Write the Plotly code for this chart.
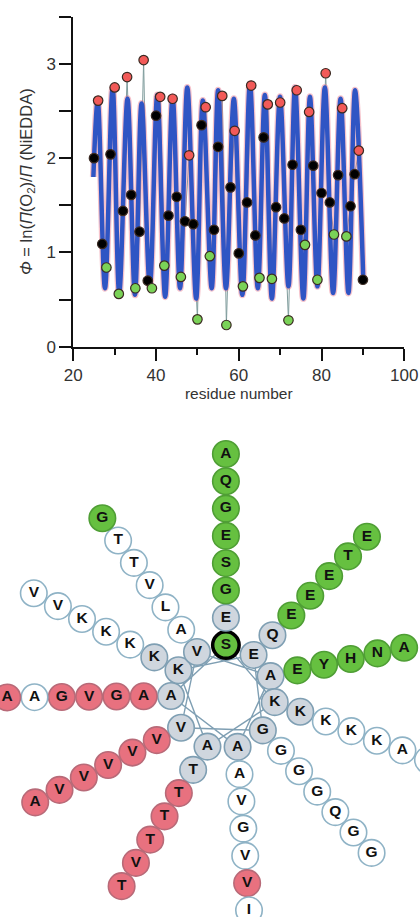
import math
import plotly.graph_objects as go

# ---------------- Top panel: data ----------------
residues = list(range(25, 91))
phi = [2.00, 2.61, 1.09, 0.84, 2.04, 2.75, 0.56, 1.44, 2.86, 1.61,
       0.62, 1.22, 3.04, 0.70, 0.62, 2.45, 2.65, 0.86, 1.39, 2.63,
       1.59, 0.74, 1.33, 2.03, 1.30, 0.29, 2.35, 2.54, 0.96, 1.24,
       2.12, 2.66, 0.23, 1.69, 2.29, 0.99, 0.64, 1.53, 2.77, 1.18,
       0.73, 2.22, 2.57, 0.72, 1.48, 2.59, 1.36, 0.28, 1.93, 2.72,
       1.24, 1.08, 2.49, 1.92, 0.71, 1.63, 2.90, 1.53, 1.19, 1.82,
       2.53, 1.17, 1.49, 1.83, 2.08, 0.71]
# k = black, r = red, g = green
group = ["k", "r", "k", "g", "k", "r", "g", "k", "r", "k",
         "g", "k", "r", "k", "g", "k", "r", "g", "k", "r",
         "k", "g", "k", "r", "k", "g", "k", "r", "g", "k",
         "k", "r", "g", "k", "r", "k", "g", "k", "r", "k",
         "g", "k", "r", "g", "k", "r", "k", "g", "k", "r",
         "k", "g", "r", "k", "g", "k", "r", "k", "g", "k",
         "r", "g", "k", "k", "r", "k"]

# periodic fit curve: extrema
fit_x = [24.85, 25.9, 27.66, 29.5, 31.1, 33.1, 34.9, 36.5, 38.5, 40.3, 42.2, 44.0,
         45.8, 47.55, 49.7, 51.3, 53.45, 55.0, 56.9, 58.8, 60.85, 62.7, 64.6, 66.3,
         68.0, 69.96, 72.0, 73.6, 75.6, 77.2, 79.0, 80.8, 82.8, 84.6, 86.5, 88.1, 90.1]
fit_y = [1.80, 2.61, 0.62, 2.74, 0.57, 2.63, 0.55, 2.58, 0.64, 2.67, 0.53, 2.65,
         0.62, 2.75, 0.51, 2.61, 0.62, 2.72, 0.62, 2.63, 0.55, 2.79, 0.62, 2.67,
         0.51, 2.65, 0.64, 2.75, 0.51, 2.65, 0.64, 2.75, 0.57, 2.63, 0.57, 2.72, 0.69]

x_ticks = [20, 40, 60, 80, 100]
y_ticks = [0, 0.5, 1, 1.5, 2, 2.5, 3, 3.5]
y_tick_text = ["0", "", "1", "", "2", "", "3", ""]

# ---------------- Bottom panel: helical wheel data ----------------
spoke_seq = ["SEGSEGQA", "EQEEETE", "AEYHNA", "KKKKKA ", "GGGGQGG", "AAVGVVI",
             "ATTTTVT", "VVVVVVA", "AAGVGAA", "KKKKKVV", "VALVTTG"]
# c = core (grey), w = white, g = green, r = red
spoke_col = ["gcgggggg", "ccggggg", "cggggg", "ccwwwww", "cwwwwww", "cwwwwrw",
             "ccrrrrr", "crrrrrr", "crrrrwr", "ccwwwww", "cwwwwwg"]
highlight = (0, 0)  # the boxed Ser

# wheel geometry (layout)
inner_angle = [86.8, 54, 23.7, -5.7, -40, -73.7, -107.4, -143.8, 178.9, 149, 120]
spoke_dir = [90, 46.2, 12, -20.7, -48.4, -86, -121.6, -152.9, 180.5, 152, 125.3]
R_INNER = 52
STEP = 27.3

FILL = {"c": "#cfd6de", "w": "#ffffff", "g": "#66c040", "r": "#e8717f"}
EDGE = {"c": "#7f9fb3", "w": "#8fb3c6", "g": "#4f9e35", "r": "#b86a78"}

FONT = "Liberation Sans, Arial, sans-serif"

fig = go.Figure()

# ---- top panel traces ----
fig.add_trace(go.Scatter(x=residues, y=phi, mode="lines",
                         line=dict(color="#7f9c9c", width=1),
                         xaxis="x", yaxis="y", hoverinfo="skip"))
fig.add_trace(go.Scatter(x=fit_x, y=fit_y, mode="lines",
                         line=dict(color="rgba(232,120,140,0.45)", width=7, shape="spline"),
                         xaxis="x", yaxis="y", hoverinfo="skip"))
fig.add_trace(go.Scatter(x=fit_x, y=fit_y, mode="lines",
                         line=dict(color="#2f55c4", width=4.5, shape="spline"),
                         xaxis="x", yaxis="y"))
PT = {"k": "#000000", "r": "#f25a58", "g": "#7ad257"}
for gkey in ["k", "r", "g"]:
    xs = [r for r, g in zip(residues, group) if g == gkey]
    ys = [p for p, g in zip(phi, group) if g == gkey]
    fig.add_trace(go.Scatter(x=xs, y=ys, mode="markers",
                             marker=dict(size=9.5, color=PT[gkey],
                                         line=dict(color="#3a2a22", width=1.2)),
                             xaxis="x", yaxis="y"))

# ---- wheel traces ----
inner_xy = []
for k in range(len(spoke_seq)):
    th = math.radians(inner_angle[k])
    inner_xy.append((R_INNER * math.cos(th), R_INNER * math.sin(th)))

order = []
k = 0
for _ in range(len(inner_xy) + 1):
    order.append(k)
    k = (k + 3) % len(inner_xy)
fig.add_trace(go.Scatter(x=[inner_xy[i][0] for i in order],
                         y=[inner_xy[i][1] for i in order],
                         mode="lines", line=dict(color="#7f9fb3", width=1.4),
                         xaxis="x2", yaxis="y2", hoverinfo="skip"))

wx, wy, wt, wf, we, ww = [], [], [], [], [], []
for k, (seq, cols) in enumerate(zip(spoke_seq, spoke_col)):
    x0, y0 = inner_xy[k]
    ph = math.radians(spoke_dir[k])
    for j, (aa, c) in enumerate(zip(seq, cols)):
        wx.append(x0 + j * STEP * math.cos(ph))
        wy.append(y0 + j * STEP * math.sin(ph))
        wt.append(aa.strip())
        wf.append(FILL[c])
        if (k, j) == highlight:
            we.append("#000000")
            ww.append(3.5)
        else:
            we.append(EDGE[c])
            ww.append(1.6)

fig.add_trace(go.Scatter(x=wx, y=wy, mode="markers+text", text=wt,
                         textposition="middle center",
                         textfont=dict(family=FONT, size=15.5, color="#111111", weight="bold"),
                         marker=dict(size=26.5, color=wf, line=dict(color=we, width=ww)),
                         xaxis="x2", yaxis="y2"))

W, H = 420, 917
fig.update_layout(
    width=W, height=H, showlegend=False,
    margin=dict(l=0, r=0, t=0, b=0),
    paper_bgcolor="white", plot_bgcolor="rgba(0,0,0,0)",
    font=dict(family=FONT, color="#222222"),
    xaxis=dict(domain=[73.3 / W, 404.3 / W], range=[20, 100], anchor="y",
               showgrid=False, zeroline=False, showline=True, linecolor="#111", linewidth=2,
               ticks="outside", ticklen=12, tickwidth=2, tickcolor="#111",
               tickvals=x_ticks, tickfont=dict(size=17, color="#333"),
               minor=dict(dtick=10, tick0=20, ticks="outside", ticklen=6, tickwidth=2, tickcolor="#111"),
               title=dict(text="residue number", font=dict(size=15.5, color="#333"), standoff=3),
               automargin=False),
    yaxis=dict(domain=[1 - 346.7 / H, 1 - 16.7 / H], range=[0, 3.5], anchor="x",
               showgrid=False, zeroline=False, showline=True, linecolor="#111", linewidth=2,
               ticks="outside", ticklen=12, tickwidth=2, tickcolor="#111",
               tickvals=y_ticks, ticktext=y_tick_text, tickfont=dict(size=17, color="#333"),
               title=dict(text="<i>Φ</i> = ln(<i>Π</i>(O<sub>2</sub>)/<i>Π</i> (NiEDDA)",
                          font=dict(size=16.5, color="#333"), standoff=10),
               automargin=False),
    xaxis2=dict(domain=[0, 1], range=[-223, 197], anchor="y2", visible=False),
    yaxis2=dict(domain=[0, 1 - 430 / H], range=[-220, 267], anchor="x2", visible=False),
)

fig.write_html("out.html", config={"displayModeBar": False},
               post_script="document.body.style.margin='0px';document.body.style.overflow='hidden';")
